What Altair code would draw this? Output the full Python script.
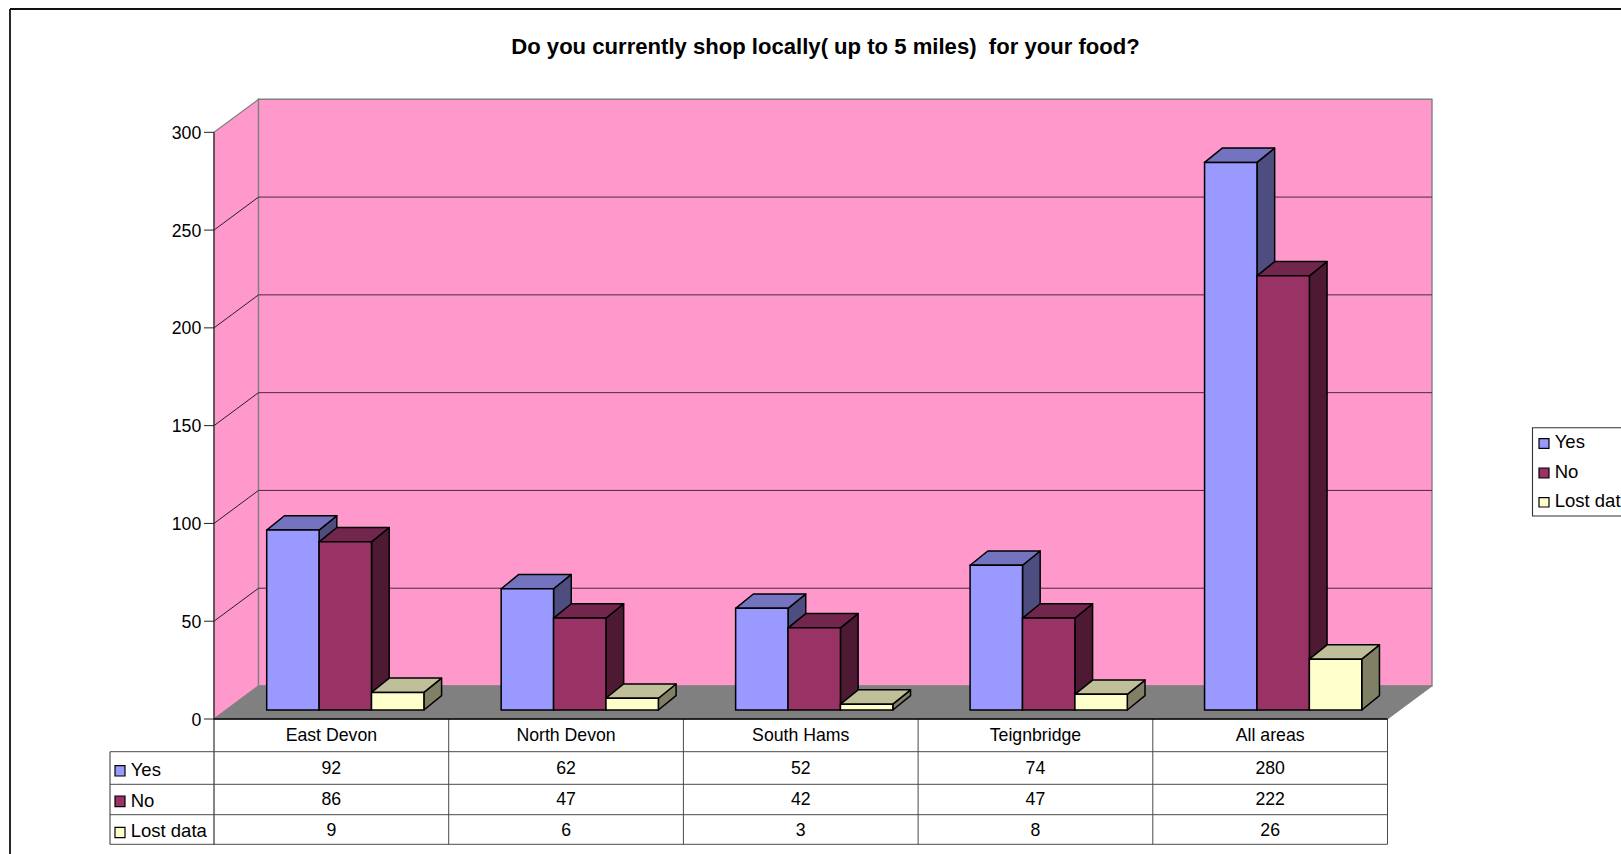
import altair as alt
import pandas as pd

categories = ["East Devon", "North Devon", "South Hams", "Teignbridge", "All areas"]
series_names = ["Yes", "No", "Lost data"]
yes_values = [92, 62, 52, 74, 280]
no_values = [86, 47, 42, 47, 222]
lost_values = [9, 6, 3, 8, 26]
tick_values = [0, 50, 100, 150, 200, 250, 300]
title_text = "Do you currently shop locally( up to 5 miles)\u00a0 for your food?"

front_colors = {"Yes": "#9999FF", "No": "#993366", "Lost data": "#FFFFCC"}
top_colors = {"Yes": "#7373BF", "No": "#73264D", "Lost data": "#BFBF99"}
side_colors = {"Yes": "#4D4D80", "No": "#4D1933", "Lost data": "#808066"}

W, H = 1621, 854
FONT = "Liberation Sans"
TEXT_SIZE = 17.7
LABEL_SIZE = 18.5

# Pixel geometry of the oblique projection
AXIS_X, ZERO_Y = 214.0, 719.0
CAT_W = 234.7
PX_PER_UNIT = 586.7 / 300


def cat_units(px):
    return px / CAT_W


def val_units(px):
    return px / PX_PER_UNIT


WALL_DX, WALL_DY = cat_units(44.5), val_units(33.0)
BAR_DX, BAR_DY = cat_units(17.7), val_units(14.3)
BAR_BASE = val_units(9.0)
BAR_W = cat_units(52.4)
BAR_START = cat_units(52.7)
BAR_STEP = 0.999

x_scale = alt.Scale(domain=[-AXIS_X / CAT_W, (W - AXIS_X) / CAT_W], range=[0, W], nice=False, zero=False)
y_scale = alt.Scale(domain=[val_units(ZERO_Y - H), val_units(ZERO_Y)], range=[H, 0], nice=False, zero=False)


def X(field):
    return alt.X(f"{field}:Q", scale=x_scale, axis=None)


def Y(field):
    return alt.Y(f"{field}:Q", scale=y_scale, axis=None)


def below(py):
    """Value-scale position of a pixel row under the baseline."""
    return val_units(ZERO_Y - py)


n_cat = len(categories)
all_values = {"Yes": yes_values, "No": no_values, "Lost data": lost_values}

# ---- walls and floor ----
side_wall = pd.DataFrame({"x": [0, WALL_DX], "y": [300, 300 + WALL_DY], "y0": [0, WALL_DY]})
back_wall = pd.DataFrame({"x": [WALL_DX], "x2": [n_cat + WALL_DX], "y": [300 + WALL_DY], "y0": [WALL_DY]})
floor = pd.DataFrame({"y": [0, WALL_DY], "x": [0, WALL_DX], "x2": [n_cat, n_cat + WALL_DX]})

layers = []

# Outer chart border: runs off the right and bottom of the canvas
frame_src = pd.DataFrame({"a": [0]})
layers.append(
    alt.Chart(frame_src).mark_rule(color="#111111", strokeWidth=1.8).encode(
        x=alt.value(10), x2=alt.value(W + 5), y=alt.value(9)
    )
)
layers.append(
    alt.Chart(frame_src).mark_rule(color="#111111", strokeWidth=1.8).encode(
        x=alt.value(10), y=alt.value(9), y2=alt.value(H + 5)
    )
)

layers.append(
    alt.Chart(side_wall).mark_area(orient="vertical", fill="#FF99CC", stroke="#808080", strokeWidth=1.2).encode(
        x=X("x"), y=Y("y"), y2="y0:Q"
    )
)
layers.append(
    alt.Chart(back_wall).mark_rect(fill="#FF99CC", stroke="#808080", strokeWidth=1.4).encode(
        x=X("x"), x2="x2:Q", y=Y("y"), y2="y0:Q"
    )
)
layers.append(
    alt.Chart(floor).mark_area(orient="horizontal", fill="#808080", stroke="#808080", strokeWidth=1).encode(
        y=Y("y"), x=X("x"), x2="x2:Q"
    )
)

# Value axis: tick marks and labels left of the front wall edge
ticks = pd.DataFrame({"v": tick_values, "label": [str(t) for t in tick_values]})
ticks["x0"] = -cat_units(10)
ticks["x1"] = 0.0
layers.append(
    alt.Chart(ticks).mark_rule(color="#222222", strokeWidth=1).encode(x=X("x0"), x2="x1:Q", y=Y("v"))
)
layers.append(
    alt.Chart(ticks).mark_text(
        font=FONT, fontSize=TEXT_SIZE, color="#000000", baseline="middle", align="right", dy=1.5
    ).encode(x=alt.value(201.3), y=Y("v"), text="label:N")
)

# Gridlines along the side wall and across the back wall
grid = pd.DataFrame({"v": tick_values})
grid["x0"] = 0.0
grid["x1"] = WALL_DX
grid["x2"] = n_cat + WALL_DX
grid["vb"] = grid["v"] + WALL_DY
inner = grid[(grid["v"] > 0) & (grid["v"] < 300)]
layers.append(
    alt.Chart(inner).mark_rule(color="#222222", strokeWidth=1).encode(x=X("x0"), x2="x1:Q", y=Y("v"), y2="vb:Q")
)
layers.append(
    alt.Chart(inner).mark_rule(color="#4A2A3C", strokeWidth=1).encode(x=X("x1"), x2="x2:Q", y=Y("vb"))
)

# Front edge of the side wall
edge = pd.DataFrame({"x": [0.0], "y": [300.0], "y0": [below(845)]})
layers.append(
    alt.Chart(edge).mark_rule(color="#222222", strokeWidth=1.1).encode(x=X("x"), y=Y("y"), y2="y0:Q")
)

# ---- 3D columns, series by series so later columns overlap earlier ones ----
for s_idx, name in enumerate(series_names):
    front, top, side = [], [], []
    for i, (cat, v) in enumerate(zip(categories, all_values[name])):
        left = BAR_START + i * BAR_STEP + s_idx * BAR_W
        right = left + BAR_W
        y_top = v + BAR_BASE
        front.append({"cat": cat, "x": left, "x2": right, "y": y_top, "y0": BAR_BASE})
        top.append({"cat": cat, "y": y_top, "x": left, "x2": right})
        top.append({"cat": cat, "y": y_top + BAR_DY, "x": left + BAR_DX, "x2": right + BAR_DX})
        side.append({"cat": cat, "x": right, "y": y_top, "y0": BAR_BASE})
        side.append({"cat": cat, "x": right + BAR_DX, "y": y_top + BAR_DY, "y0": BAR_BASE + BAR_DY})
    layers.append(
        alt.Chart(pd.DataFrame(side)).mark_area(
            orient="vertical", fill=side_colors[name], stroke="#000000", strokeWidth=1.5, strokeJoin="round"
        ).encode(x=X("x"), y=Y("y"), y2="y0:Q", detail="cat:N")
    )
    layers.append(
        alt.Chart(pd.DataFrame(top)).mark_area(
            orient="horizontal", fill=top_colors[name], stroke="#000000", strokeWidth=1.5, strokeJoin="round"
        ).encode(y=Y("y"), x=X("x"), x2="x2:Q", detail="cat:N")
    )
    layers.append(
        alt.Chart(pd.DataFrame(front)).mark_rect(
            fill=front_colors[name], stroke="#000000", strokeWidth=1.5
        ).encode(x=X("x"), x2="x2:Q", y=Y("y"), y2="y0:Q")
    )

# ---- data table ----
row_lines = [751.7, 784.3, 814.7, 844.3]
table_h = pd.DataFrame({"y": [below(p) for p in row_lines], "x0": [-cat_units(AXIS_X - 110)] * 4, "x1": [float(n_cat)] * 4})
layers.append(
    alt.Chart(table_h).mark_rule(color="#4A4A4A", strokeWidth=1).encode(x=X("x0"), x2="x1:Q", y=Y("y"))
)
table_v = pd.DataFrame({"x": list(range(1, n_cat + 1)), "y0": [0.0] * n_cat, "y1": [below(844.3)] * n_cat})
layers.append(
    alt.Chart(table_v).mark_rule(color="#4A4A4A", strokeWidth=1).encode(x=X("x"), y=Y("y0"), y2="y1:Q")
)
table_left = pd.DataFrame({"x": [-cat_units(AXIS_X - 110)], "y0": [below(751.7)], "y1": [below(844.3)]})
layers.append(
    alt.Chart(table_left).mark_rule(color="#333333", strokeWidth=1).encode(x=X("x"), y=Y("y0"), y2="y1:Q")
)
baseline = pd.DataFrame({"x0": [0.0], "x1": [float(n_cat)], "y": [0.0]})
layers.append(
    alt.Chart(baseline).mark_rule(color="#000000", strokeWidth=1.3).encode(x=X("x0"), x2="x1:Q", y=Y("y"))
)

text_style = dict(font=FONT, fontSize=TEXT_SIZE, color="#000000", baseline="middle")
label_style = dict(font=FONT, fontSize=LABEL_SIZE, color="#000000", baseline="middle")

head = pd.DataFrame({"label": categories, "x": [i + 0.5 for i in range(n_cat)], "y": [below(736.3)] * n_cat})
layers.append(
    alt.Chart(head).mark_text(align="center", **text_style).encode(x=X("x"), y=Y("y"), text="label:N")
)

row_centers = {"Yes": 769, "No": 800, "Lost data": 831}
label_centers = {"Yes": 770, "No": 801, "Lost data": 831}
swatch_rows = {"Yes": (765.7, 776), "No": (796, 806.7), "Lost data": (827.3, 837.7)}
cells = pd.DataFrame(
    [
        {"label": str(v), "x": i + 0.5, "y": below(row_centers[name])}
        for name in series_names
        for i, v in enumerate(all_values[name])
    ]
)
layers.append(
    alt.Chart(cells).mark_text(align="center", **text_style).encode(x=X("x"), y=Y("y"), text="label:N")
)

row_heads = pd.DataFrame(
    {
        "label": series_names,
        "y": [below(label_centers[n]) for n in series_names],
        "y0": [below(swatch_rows[n][0]) for n in series_names],
        "y1": [below(swatch_rows[n][1]) for n in series_names],
        "fill": [front_colors[n] for n in series_names],
    }
)
layers.append(
    alt.Chart(row_heads).mark_rect(stroke="#000000", strokeWidth=1.2).encode(
        x=alt.value(115), x2=alt.value(125), y=Y("y0"), y2="y1:Q", fill=alt.Fill("fill:N", scale=None)
    )
)
layers.append(
    alt.Chart(row_heads).mark_text(align="left", **label_style).encode(x=alt.value(130.7), y=Y("y"), text="label:N")
)

# ---- legend box, cut by the right edge of the canvas ----
legend_box = pd.DataFrame({"y0": [below(427.7)], "y1": [below(516)]})
layers.append(
    alt.Chart(legend_box).mark_rect(fill="#FFFFFF", stroke="#333333", strokeWidth=1.1).encode(
        x=alt.value(1532.5), x2=alt.value(W + 40), y=Y("y0"), y2="y1:Q"
    )
)
legend_swatch = {"Yes": (438.7, 448.3), "No": (468, 478), "Lost data": (497.7, 507)}
legend_text = {"Yes": 442, "No": 472, "Lost data": 501}
legend_rows = pd.DataFrame(
    {
        "label": series_names,
        "y": [below(legend_text[n]) for n in series_names],
        "y0": [below(legend_swatch[n][0]) for n in series_names],
        "y1": [below(legend_swatch[n][1]) for n in series_names],
        "fill": [front_colors[n] for n in series_names],
    }
)
layers.append(
    alt.Chart(legend_rows).mark_rect(stroke="#000000", strokeWidth=1.2).encode(
        x=alt.value(1539), x2=alt.value(1549), y=Y("y0"), y2="y1:Q", fill=alt.Fill("fill:N", scale=None)
    )
)
layers.append(
    alt.Chart(legend_rows).mark_text(align="left", **label_style).encode(x=alt.value(1554.7), y=Y("y"), text="label:N")
)

# ---- title ----
title_df = pd.DataFrame({"label": [title_text]})
layers.append(
    alt.Chart(title_df).mark_text(
        font=FONT, fontSize=22.1, fontWeight="bold", color="#000000", align="center", baseline="middle"
    ).encode(x=alt.value(825.5), y=alt.value(46.5), text="label:N")
)

chart = (
    alt.layer(*layers)
    .properties(width=W, height=H, padding=0, autosize=alt.AutoSizeParams(type="none"), background="#FFFFFF")
    .configure_view(stroke=None)
)

chart.save("out.html", embed_options={"renderer": "svg", "actions": False})
